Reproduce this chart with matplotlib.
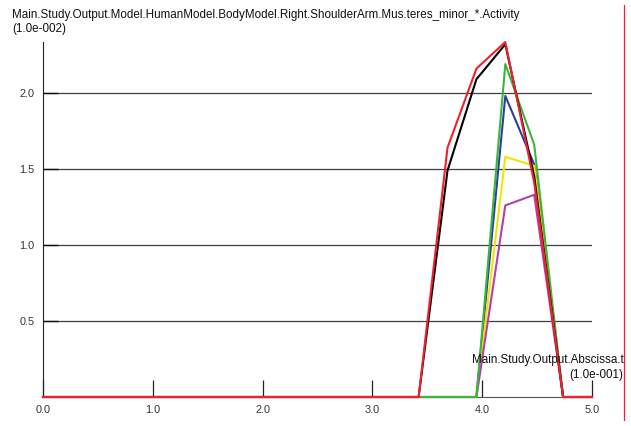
import matplotlib
matplotlib.use("Agg")
import matplotlib.pyplot as plt
import numpy as np
from matplotlib.lines import Line2D

# settings
plt.rcParams['font.family'] = ['Liberation Sans', 'DejaVu Sans']

# data (sampled at 20 points from 0 to 5)
t = np.linspace(0, 5, 20)
zeros13 = [0.0] * 13

black   = zeros13 + [0.0, 1.49, 2.09, 2.32, 1.45, 0.0, 0.0]
blue    = zeros13 + [0.0, 0.0, 0.0, 1.98, 1.53, 0.0, 0.0]
yellow  = zeros13 + [0.0, 0.0, 0.0, 1.58, 1.52, 0.0, 0.0]
magenta = zeros13 + [0.0, 0.0, 0.0, 1.26, 1.33, 0.0, 0.0]
green   = zeros13 + [0.0, 0.0, 0.0, 2.19, 1.66, 0.0, 0.0]
red     = zeros13 + [0.0, 1.64, 2.16, 2.335, 1.41, 0.0, 0.0]

xticks = [0.0, 1.0, 2.0, 3.0, 4.0, 5.0]
yticks = [0.5, 1.0, 1.5, 2.0]

title = ["Main.Study.Output.Model.HumanModel.BodyModel.Right.ShoulderArm.Mus.teres_minor_*.Activity",
         "(1.0e-002)"]
xlabel = ["Main.Study.Output.Abscissa.t", "(1.0e-001)"]

W, H = 631, 426
fig = plt.figure(figsize=(W / 100, H / 100), dpi=100)
ax = fig.add_axes([43 / W, 1 - 397 / H, 549 / W, 355 / H])

# horizontal grid lines
for yv in yticks:
    ax.axhline(yv, color='#3a3f3f', lw=0.9, zorder=1)

lw = 1.5
ax.plot(t, blue, color='#2a3f9f', lw=lw, zorder=3, clip_on=False)
ax.plot(t, yellow, color='#f2e400', lw=lw, zorder=3, clip_on=False)
ax.plot(t, magenta, color='#b23fb0', lw=lw, zorder=3, clip_on=False)
ax.plot(t, green, color='#3db43c', lw=lw, zorder=3, clip_on=False)
ax.plot(t, black, color='#000000', lw=lw, zorder=3, clip_on=False)
ax.plot(t, red, color='#f0202e', lw=lw, zorder=4, clip_on=False)

ax.set_xlim(0, 5)
ax.set_ylim(0, 2.335)

for s in ['top', 'right']:
    ax.spines[s].set_visible(False)
ax.spines['left'].set_color('#222222')
ax.spines['bottom'].set_color('#555555')

ax.set_xticks(xticks)
ax.set_xticklabels([f"{v:.1f}" for v in xticks])
ax.set_yticks(yticks)
ax.set_yticklabels([f"{v:.1f}" for v in yticks])
ax.tick_params(axis='x', direction='in', length=12, width=0.9, color='#222222',
               labelsize=7.8, labelcolor='#333333', pad=6)
ax.tick_params(axis='y', direction='in', length=11, width=1.0, color='#111111',
               labelsize=7.8, labelcolor='#333333', pad=6)

# title lines (top left) and abscissa label lines (right, above the axis)
fig.text(12 / W, 1 - 18 / H, title[0], ha='left', va='baseline', fontsize=8.4, color='#111111')
fig.text(12 / W, 1 - 32 / H, title[1], ha='left', va='baseline', fontsize=8.4, color='#111111')
fig.text(624 / W, 1 - 363 / H, xlabel[0], ha='right', va='baseline', fontsize=8.4, color='#111111')
fig.text(623 / W, 1 - 378 / H, xlabel[1], ha='right', va='baseline', fontsize=8.4, color='#111111')

# red border line on the right
fig.add_artist(Line2D([624 / W, 624 / W], [1 - 5 / H, 1 - 420 / H],
                      color='#f0203a', lw=0.9))

fig.savefig("out.png", dpi=100)
